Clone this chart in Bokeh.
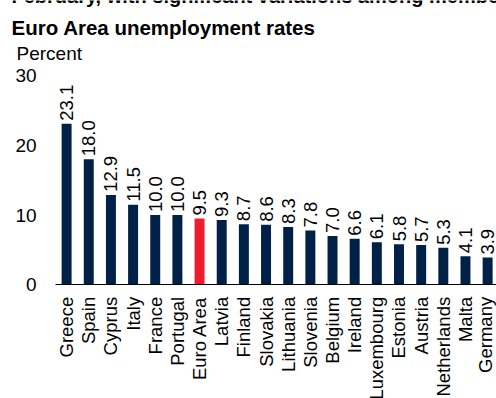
import math
from bokeh.plotting import figure
from bokeh.models import Range1d, FixedTicker, Label, ColumnDataSource
from bokeh.core.properties import value
from bokeh.embed import file_html
from bokeh.resources import INLINE

countries = ["Greece", "Spain", "Cyprus", "Italy", "France", "Portugal", "Euro Area",
             "Latvia", "Finland", "Slovakia", "Lithuania", "Slovenia", "Belgium",
             "Ireland", "Luxembourg", "Estonia", "Austria", "Netherlands", "Malta",
             "Germany"]
rates = [23.1, 18.0, 12.9, 11.5, 10.0, 10.0, 9.5, 9.3, 8.7, 8.6, 8.3, 7.8, 7.0,
         6.6, 6.1, 5.8, 5.7, 5.3, 4.1, 3.9]
y_ticks = [0, 10, 20, 30]
highlight = "Euro Area"
subtitle_cut = "February, with significant variations among member states"
title = "Euro Area unemployment rates"
unit_label = "Percent"

NAVY = "#002147"
RED = "#ED1C2E"
FONT = "Liberation Sans"

W, H = 496, 398
X0_PX, PX_PER_CAT = 66.1, 22.16      # centre of first bar, spacing between bars
Y0_PX, PX_PER_UNIT = 284.3, 6.97     # zero line, pixels per percentage point


def dx(px):
    return (px - X0_PX) / PX_PER_CAT


def dy(px):
    return (Y0_PX - px) / PX_PER_UNIT


idx = list(range(len(countries)))
colors = [RED if c == highlight else NAVY for c in countries]
labels = [f"{v:.1f}" for v in rates]
src = ColumnDataSource(dict(x=idx, top=rates, color=colors, label=labels, name=countries))

p = figure(width=W, height=H, output_backend="svg", toolbar_location=None,
           x_range=Range1d(dx(0), dx(W)), y_range=Range1d(dy(H), dy(0)),
           min_border=0, background_fill_color="white",
           border_fill_color="white", outline_line_color=None)
p.grid.visible = False

p.vbar(x="x", top="top", width=0.45, bottom=0, fill_color="color",
       line_color=None, source=src)

p.text(x="x", y="top", text="label", angle=math.pi / 2, y_offset=-3,
       text_align="left", text_baseline="middle",
       text_font=value(FONT), text_font_size="18.5px", text_color="black",
       source=src)

axis_left = -0.5  # left edge of the category band

# y axis (no line, no ticks)
ya = p.yaxis[0]
ya.fixed_location = axis_left
ya.ticker = FixedTicker(ticks=y_ticks)
ya.axis_line_color = None
ya.major_tick_line_color = None
ya.minor_tick_line_color = None
ya.major_tick_out = 0
ya.major_tick_in = 0
ya.major_label_standoff = 19
ya.major_label_text_font = FONT
ya.major_label_text_font_size = "19px"
ya.major_label_text_color = "black"

# x axis (baseline at zero)
xa = p.xaxis[0]
xa.fixed_location = 0
xa.bounds = (axis_left, dx(W))
xa.ticker = FixedTicker(ticks=idx)
xa.major_label_overrides = {i: c for i, c in zip(idx, countries)}
xa.major_label_orientation = math.pi / 2
xa.axis_line_color = "black"
xa.axis_line_width = 1
xa.major_tick_line_color = None
xa.minor_tick_line_color = None
xa.major_tick_out = 0
xa.major_tick_in = 0
xa.major_label_standoff = 12
xa.major_label_text_font = FONT
xa.major_label_text_font_size = "18.5px"
xa.major_label_text_color = "black"

# titles
p.add_layout(Label(x=dx(11), y=dy(-4.5), text=subtitle_cut,
                   text_font=FONT, text_font_size="20px", text_font_style="bold",
                   text_baseline="alphabetic", text_color="black"))
p.add_layout(Label(x=dx(11), y=dy(26.8), text=title,
                   text_font=FONT, text_font_size="20.5px", text_font_style="bold",
                   text_baseline="alphabetic", text_color="black"))
p.add_layout(Label(x=dx(16), y=dy(53.3), text=unit_label,
                   text_font=FONT, text_font_size="19px",
                   text_baseline="alphabetic", text_color="black"))

open("out.html", "w").write(file_html(p, INLINE))
